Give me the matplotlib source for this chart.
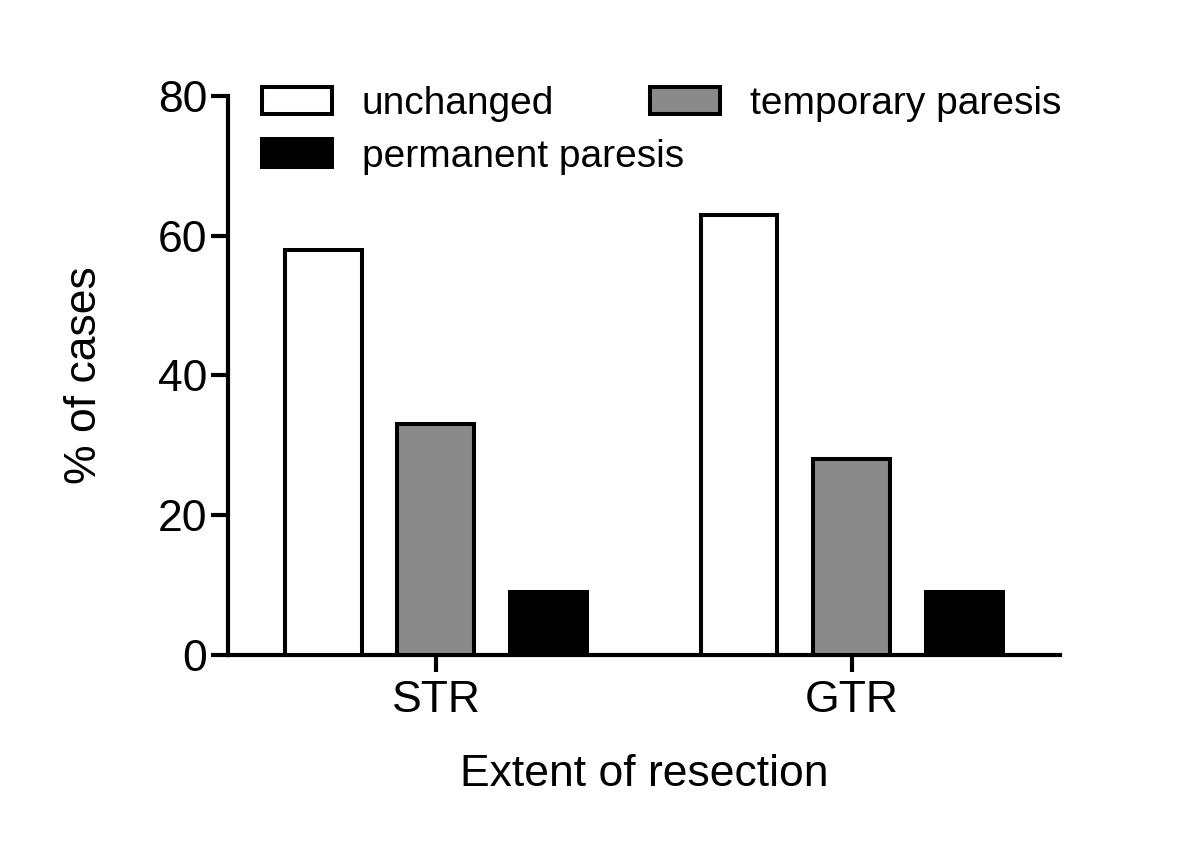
import numpy as np
import matplotlib
matplotlib.use("Agg")
import matplotlib.pyplot as plt

plt.rcParams['font.family'] = ['Liberation Sans', 'DejaVu Sans']

# ---- data ----
groups = ["STR", "GTR"]
series = ["unchanged", "temporary paresis", "permanent paresis"]
unchanged = [58, 63]
temporary = [33, 28]
permanent = [9, 9]
yticks = [0, 20, 40, 60, 80]

colors = ["white", "#8a8a8a", "black"]

fig = plt.figure(figsize=(12, 8.47), dpi=100)
ax = fig.add_axes([0.19, 0.2267, 0.693, 0.66])

x = np.arange(len(groups))
w = 0.185
off = 0.271
bars = []
for i, (vals, col, name) in enumerate(zip([unchanged, temporary, permanent], colors, series)):
    b = ax.bar(x + (i - 1) * off, vals, w, color=col, edgecolor="black",
               linewidth=2.9, label=name, zorder=3)
    bars.append(b)

ax.set_xlim(-0.5, 1.5)
ax.set_ylim(0, 80)
ax.set_yticks(yticks)
ax.set_xticks(x)
ax.set_xticklabels(groups)

for s in ["top", "right"]:
    ax.spines[s].set_visible(False)
for s in ["left", "bottom"]:
    ax.spines[s].set_linewidth(3)
ax.tick_params(axis="both", width=3, length=12, labelsize=32, direction="out")
ax.tick_params(axis="y", pad=3)
ax.tick_params(axis="x", pad=6)

ax.set_xlabel("Extent of resection", fontsize=32, labelpad=24)
ax.set_ylabel("% of cases", fontsize=32, labelpad=38)

# legend: left column (unchanged, permanent), right column (temporary)
leg_kw = dict(loc="upper left", frameon=False, fontsize=28, handlelength=1.8,
              handleheight=0.72, handletextpad=0.77, labelspacing=0.43,
              borderpad=0, borderaxespad=0, bbox_transform=fig.transFigure)
leg1 = ax.legend([bars[0], bars[2]], [series[0], series[2]],
                 bbox_to_anchor=(262 / 1200, 1 - 86 / 847), **leg_kw)
ax.add_artist(leg1)
ax.legend([bars[1]], [series[1]], bbox_to_anchor=(650 / 1200, 1 - 86 / 847), **leg_kw)

fig.savefig("out.png", dpi=100)
